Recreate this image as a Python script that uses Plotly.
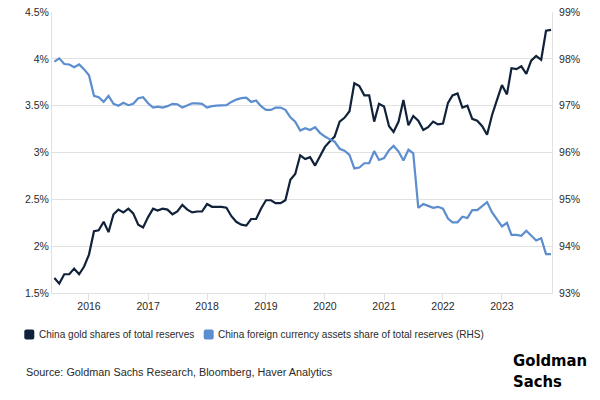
import pandas as pd
import plotly.graph_objects as go

# Monthly observations, Jun 2015 - Nov 2023
months = pd.date_range("2015-06-01", periods=102, freq="MS")

gold_share = [
    1.66, 1.60, 1.70, 1.70, 1.76, 1.70, 1.78, 1.91, 2.16, 2.17,
    2.26, 2.15, 2.34, 2.39, 2.36, 2.40, 2.35, 2.23, 2.20, 2.31,
    2.40, 2.38, 2.40, 2.39, 2.34, 2.37, 2.44, 2.39, 2.36, 2.37,
    2.37, 2.45, 2.42, 2.42, 2.42, 2.41, 2.32, 2.26, 2.23, 2.22,
    2.29, 2.29, 2.40, 2.49, 2.49, 2.46, 2.46, 2.49, 2.71, 2.77,
    2.97, 2.93, 2.95, 2.86, 2.96, 3.06, 3.12, 3.17, 3.33, 3.37,
    3.44, 3.74, 3.71, 3.61, 3.61, 3.33, 3.52, 3.49, 3.28, 3.22,
    3.33, 3.56, 3.29, 3.39, 3.34, 3.24, 3.27, 3.33, 3.30, 3.31,
    3.53, 3.61, 3.63, 3.48, 3.50, 3.36, 3.34, 3.28, 3.19, 3.40,
    3.56, 3.72, 3.62, 3.90, 3.89, 3.92, 3.84, 3.98, 4.03, 3.99,
    4.30, 4.31,
]

fx_share = [
    97.94, 98.01, 97.89, 97.88, 97.82, 97.88, 97.78, 97.65, 97.21, 97.18,
    97.08, 97.21, 97.04, 97.00, 97.06, 97.01, 97.04, 97.16, 97.18, 97.05,
    96.96, 96.98, 96.96, 96.99, 97.04, 97.03, 96.96, 97.01, 97.05, 97.05,
    97.04, 96.96, 96.99, 97.00, 97.00, 97.01, 97.08, 97.13, 97.16, 97.17,
    97.08, 97.11, 96.99, 96.91, 96.91, 96.96, 96.96, 96.91, 96.75, 96.66,
    96.47, 96.52, 96.48, 96.54, 96.42, 96.34, 96.28, 96.23, 96.08, 96.04,
    95.95, 95.66, 95.68, 95.77, 95.77, 96.03, 95.84, 95.88, 96.05, 96.14,
    96.02, 95.83, 96.06, 95.98, 94.82, 94.90, 94.86, 94.82, 94.84, 94.80,
    94.59, 94.51, 94.51, 94.63, 94.60, 94.77, 94.77, 94.85, 94.94, 94.72,
    94.56, 94.42, 94.50, 94.24, 94.24, 94.22, 94.33, 94.23, 94.12, 94.17,
    93.83, 93.83,
]

series_names = [
    "China gold shares of total reserves",
    "China foreign currency assets share of total reserves (RHS)",
]
source_text = "Source: Goldman Sachs Research, Bloomberg, Haver Analytics"
logo_text = "<b>Goldman<br>Sachs</b>"

GOLD_COLOR = "#10223a"
FX_COLOR = "#5b8dcf"
GRID = "#e1e1e1"
TXT = "#2a2a2a"
FONT = "Liberation Sans, Arial, sans-serif"
LOGO_FONT = "DejaVu Sans Condensed, Liberation Sans Narrow, Arial Narrow, sans-serif"

fig = go.Figure()
fig.add_trace(go.Scatter(x=months, y=gold_share, name=series_names[0], mode="lines",
                         line=dict(color=GOLD_COLOR, width=2.2), showlegend=False))
fig.add_trace(go.Scatter(x=months, y=fx_share, name=series_names[1], mode="lines",
                         line=dict(color=FX_COLOR, width=2.2), yaxis="y2", showlegend=False))

FIG_W, FIG_H = 600, 400
# plot area in pixels
L, R, T, B = 52, 552, 12, 293
W, H = R - L, B - T


def px(xp):
    return (xp - L) / W


def py(yp):
    return (B - yp) / H


def rounded_rect(x0, y0, x1, y1, r=2):
    rx, ry = r / W, r / H
    a0, a1 = px(x0), px(x1)
    b0, b1 = py(y1), py(y0)
    return (f"M{a0+rx},{b0} L{a1-rx},{b0} Q{a1},{b0} {a1},{b0+ry} "
            f"L{a1},{b1-ry} Q{a1},{b1} {a1-rx},{b1} L{a0+rx},{b1} "
            f"Q{a0},{b1} {a0},{b1-ry} L{a0},{b0+ry} Q{a0},{b0} {a0+rx},{b0} Z")


shapes = [
    dict(type="path", xref="paper", yref="paper", path=rounded_rect(24.3, 329.5, 34.3, 339.5),
         fillcolor=GOLD_COLOR, line=dict(width=0)),
    dict(type="path", xref="paper", yref="paper", path=rounded_rect(203.7, 329.5, 213.7, 339.5),
         fillcolor=FX_COLOR, line=dict(width=0)),
]

annotations = [
    dict(text=series_names[0], x=px(36.5), y=py(334.5), xref="paper", yref="paper",
         xanchor="left", yanchor="middle", showarrow=False,
         font=dict(family=FONT, size=10.05, color=TXT)),
    dict(text=series_names[1], x=px(215.5), y=py(334.5), xref="paper", yref="paper",
         xanchor="left", yanchor="middle", showarrow=False,
         font=dict(family=FONT, size=10.05, color=TXT)),
    dict(text=source_text, x=px(24), y=py(372), xref="paper", yref="paper",
         xanchor="left", yanchor="middle", showarrow=False,
         font=dict(family=FONT, size=10.85, color=TXT)),
    dict(text=logo_text, x=px(511), y=py(371), xref="paper", yref="paper",
         xanchor="left", yanchor="middle", align="left", showarrow=False,
         font=dict(family=LOGO_FONT, size=16.5, color="#000000")),
]

fig.update_layout(
    width=FIG_W, height=FIG_H,
    margin=dict(l=L, r=FIG_W - R, t=T, b=FIG_H - B, pad=0, autoexpand=False),
    paper_bgcolor="white", plot_bgcolor="white",
    font=dict(family=FONT, size=10.5, color=TXT),
    showlegend=False,
    shapes=shapes,
    annotations=annotations,
    xaxis=dict(
        type="date", range=["2015-05-17", "2023-11-07"], automargin=False,
        dtick="M12", tick0="2016-01-01", tickformat="%Y",
        showgrid=False, showline=True, linecolor=GRID, linewidth=1,
        ticks="outside", ticklen=6, tickcolor=GRID, tickwidth=1,
        ticklabelstandoff=-3, ticklabeloverflow="allow",
        tickfont=dict(size=10.5, color=TXT), zeroline=False,
    ),
    yaxis=dict(
        range=[1.5, 4.5], dtick=0.5, ticksuffix="%", automargin=False,
        ticklabeloverflow="allow",
        showgrid=True, gridcolor=GRID, gridwidth=1,
        showline=True, linecolor=GRID, linewidth=1,
        zeroline=False, ticks="", tickfont=dict(size=10.5, color=TXT),
    ),
    yaxis2=dict(
        range=[93, 99], dtick=1, ticksuffix="%", overlaying="y", side="right",
        automargin=False, ticklabelstandoff=4, ticklabeloverflow="allow",
        showgrid=False, showline=True, linecolor=GRID, linewidth=1,
        zeroline=False, ticks="", tickfont=dict(size=10.5, color=TXT),
    ),
)

# remove the browser's default 8px body margin so the figure sits at the page origin
fig.write_html("out.html",
               config={"displayModeBar": False},
               post_script="document.body.style.margin='0';document.body.style.padding='0';")
